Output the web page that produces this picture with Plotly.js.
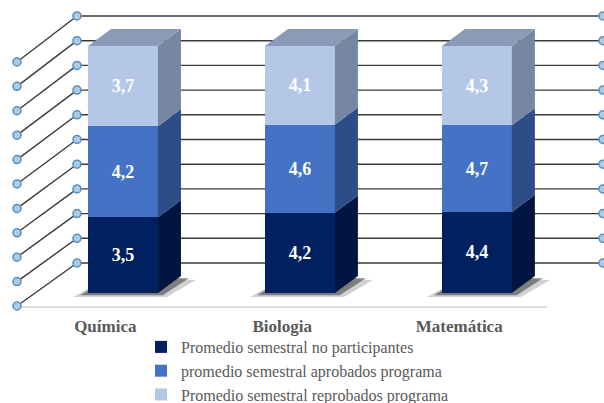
<!DOCTYPE html>
<html><head><meta charset="utf-8">
<script src="https://cdn.plot.ly/plotly-3.0.1.min.js"></script>
<style>html,body{margin:0;padding:0;background:#fff;overflow:hidden}</style>
</head><body><div id="chart" style="width:604px;height:403px"></div>
<script>
// ---- data ----
const categories = ['Química', 'Biologia', 'Matemática'];
const seriesNames = ['Promedio semestral no participantes', 'promedio semestral aprobados programa', 'Promedio semestral reprobados programa'];
const noParticipantes = [3.5, 4.2, 4.4];
const aprobados = [4.2, 4.6, 4.7];
const reprobados = [3.7, 4.1, 4.3];
const gridTicks = [0, 10, 20, 30, 40, 50, 60, 70, 80, 90, 100];

// ---- styling / geometry ----
const seriesValues = [noParticipantes, aprobados, reprobados];
const frontColors = ['#002060', '#4472C4', '#B4C7E7'];
const sideColors = ['#00153F', '#2D4D88', '#7687A3'];
const topColor = '#8A9AB7';
const serif = 'Liberation Serif';

const BAR_W = 0.395, DX = 0.13, DY = 6.9;
const WALL_BACK_DY = 12.15, WALL_FRONT_DY = -5.26, WALL_FRONT_SCALE = 0.988;
const WALL_LEFT_BACK = -0.26, WALL_LEFT_FRONT = -0.599, WALL_RIGHT = 2.712, FLOOR_RIGHT = 2.395;
const LABEL_SHIFT = -0.1;

const xIdx = categories.map((_, i) => i);
const totals = xIdx.map(i => seriesValues.reduce((s, arr) => s + arr[i], 0));
const pct = seriesValues.map(arr => arr.map((v, i) => v / totals[i] * 100));
const bases = seriesValues.map((_, k) => xIdx.map(i => pct.slice(0, k).reduce((s, a) => s + a[i], 0)));
const fmt = v => v.toFixed(1).replace('.', ',');

const traces = [];
// front faces (stacked bars)
seriesValues.forEach((arr, k) => {
  traces.push({
    type: 'bar', x: xIdx, y: pct[k], name: seriesNames[k], width: BAR_W,
    marker: {color: frontColors[k], line: {width: 0}},
    text: arr.map(fmt), textposition: 'inside', insidetextanchor: 'middle',
    textangle: 0, constraintext: 'none',
    textfont: {family: serif, size: 18, color: '#ffffff', weight: 'bold'},
    hoverinfo: 'skip'
  });
});
// side faces
seriesValues.forEach((arr, k) => {
  xIdx.forEach(i => {
    const xr = i + BAR_W / 2, y0 = bases[k][i], y1 = y0 + pct[k][i];
    traces.push({
      type: 'scatter', mode: 'lines', fill: 'toself', fillcolor: sideColors[k],
      line: {width: 0}, showlegend: false, hoverinfo: 'skip',
      x: [xr, xr + DX, xr + DX, xr, xr], y: [y0, y0 + DY, y1 + DY, y1, y0]
    });
  });
});
// top faces
xIdx.forEach(i => {
  const xl = i - BAR_W / 2, xr = i + BAR_W / 2, yt = bases[2][i] + pct[2][i];
  traces.push({
    type: 'scatter', mode: 'lines', fill: 'toself', fillcolor: topColor,
    line: {width: 0}, showlegend: false, hoverinfo: 'skip',
    x: [xl, xl + DX, xr + DX, xr, xl], y: [yt, yt + DY, yt + DY, yt, yt]
  });
});
// gridline end markers
const mx = [], my = [];
gridTicks.forEach(v => {
  mx.push(WALL_LEFT_FRONT, WALL_LEFT_BACK, WALL_RIGHT);
  my.push(v * WALL_FRONT_SCALE + WALL_FRONT_DY, v + WALL_BACK_DY, v + WALL_BACK_DY);
});
traces.push({
  type: 'scatter', mode: 'markers', x: mx, y: my, showlegend: false, hoverinfo: 'skip',
  cliponaxis: false,
  marker: {size: 8, color: '#A9CDE8', line: {color: '#5B8DB8', width: 1.5}}
});

// shapes: walls, floor, shadows (below bars)
const shapes = [];
gridTicks.forEach(v => {
  shapes.push({type: 'line', layer: 'below', xref: 'x', yref: 'y',
    x0: WALL_LEFT_BACK, x1: WALL_RIGHT, y0: v + WALL_BACK_DY, y1: v + WALL_BACK_DY,
    line: {color: '#3a3a3a', width: 1.4}});
  shapes.push({type: 'line', layer: 'below', xref: 'x', yref: 'y',
    x0: WALL_LEFT_FRONT, x1: WALL_LEFT_BACK, y0: v * WALL_FRONT_SCALE + WALL_FRONT_DY, y1: v + WALL_BACK_DY,
    line: {color: '#3a3a3a', width: 1.4}});
});
shapes.push({type: 'line', layer: 'below', xref: 'x', yref: 'y',
  x0: WALL_LEFT_FRONT, x1: FLOOR_RIGHT, y0: WALL_FRONT_DY - 0.4, y1: WALL_FRONT_DY - 0.4,
  line: {color: '#DCDCDC', width: 2}});
xIdx.forEach(i => {
  [[0.085, 1.6, 'rgba(0,0,0,0.18)'], [0.045, 0.9, 'rgba(0,0,0,0.4)']].forEach(([e, yd, c]) => {
    const xl = i - BAR_W / 2, xr = i + BAR_W / 2;
    const p = `M${xl - e},${-yd} L${xr + e * 0.6},${-yd} L${xr + DX + e},${DY - yd} L${xl + DX},${DY} Z`;
    shapes.push({type: 'path', layer: 'below', xref: 'x', yref: 'y', path: p,
      fillcolor: c, line: {width: 0}});
  });
});

const layout = {
  width: 604, height: 403,
  margin: {l: 0, r: 0, t: 0, b: 0, autoexpand: false},
  paper_bgcolor: '#ffffff', plot_bgcolor: 'rgba(0,0,0,0)',
  barmode: 'stack', bargap: 0,
  showlegend: true,
  font: {family: serif},
  xaxis: {range: [-0.695, 2.718], showgrid: false, zeroline: false, showline: false,
    automargin: false, ticklabelstandoff: 2,
    tickvals: xIdx.map(i => i + LABEL_SHIFT), ticktext: categories, ticks: '',
    tickfont: {family: serif, size: 17, color: '#595959', weight: 'bold'}, fixedrange: true},
  yaxis: {range: [-7.69, 118.62], domain: [0.2258, 1], visible: false, fixedrange: true},
  legend: {x: 141 / 604, xanchor: 'left', y: 1 - 330 / 403, yanchor: 'top',
    traceorder: 'normal', bgcolor: 'rgba(0,0,0,0)', tracegroupgap: 0,
    font: {family: serif, size: 16, color: '#595959'}},
  shapes: shapes
};

Plotly.newPlot('chart', traces, layout, {displayModeBar: false, staticPlot: true});
</script></body></html>
